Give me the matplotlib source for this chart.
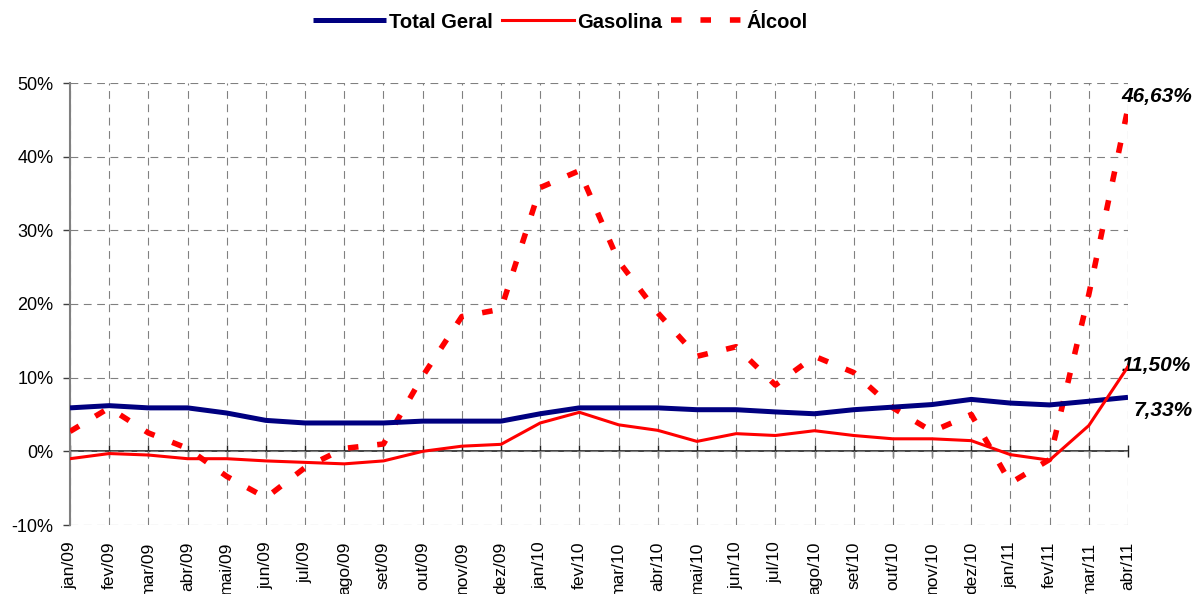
import matplotlib
matplotlib.use("Agg")
import matplotlib.pyplot as plt

plt.rcParams['font.family'] = ['Liberation Sans', 'DejaVu Sans']

# categorias (meses) e séries em %
meses = ['jan/09', 'fev/09', 'mar/09', 'abr/09', 'mai/09', 'jun/09', 'jul/09',
         'ago/09', 'set/09', 'out/09', 'nov/09', 'dez/09', 'jan/10', 'fev/10',
         'mar/10', 'abr/10', 'mai/10', 'jun/10', 'jul/10', 'ago/10', 'set/10',
         'out/10', 'nov/10', 'dez/10', 'jan/11', 'fev/11', 'mar/11', 'abr/11']
total_geral = [5.9, 6.2, 5.9, 5.9, 5.2, 4.2, 3.85, 3.85, 3.85, 4.1, 4.1, 4.1,
               5.1, 5.9, 5.9, 5.9, 5.65, 5.65, 5.35, 5.1, 5.65, 6.0, 6.35, 7.05,
               6.55, 6.3, 6.8, 7.33]
gasolina = [-1.0, -0.3, -0.5, -1.0, -1.0, -1.3, -1.5, -1.7, -1.3, 0.0, 0.7, 0.95,
            3.85, 5.3, 3.6, 2.85, 1.35, 2.4, 2.15, 2.8, 2.15, 1.7, 1.7, 1.45,
            -0.45, -1.2, 3.5, 11.50]
alcool = [2.7, 5.9, 2.5, 0.4, -3.4, -6.3, -2.2, 0.4, 1.0, 10.2, 18.3, 19.3,
          35.8, 38.1, 25.8, 18.8, 12.9, 14.2, 9.0, 12.9, 10.7, 5.9, 2.7, 5.0,
          -4.3, -1.1, 21.3, 46.63]
y_ticks = [-10, 0, 10, 20, 30, 40, 50]
y_labels = ['-10%', '0%', '10%', '20%', '30%', '40%', '50%']
rotulos = ['7,33%', '11,50%', '46,63%']

W, H = 1198, 594
fig = plt.figure(figsize=(W / 100, H / 100), dpi=100)
ax = fig.add_axes([70 / W, (H - 525) / H, (1128 - 70) / W, (525 - 83) / H])

x = list(range(len(meses)))
l1, = ax.plot(x, total_geral, color='#000080', lw=3.6, label='Total Geral',
              solid_capstyle='butt', zorder=4)
l2, = ax.plot(x, gasolina, color='#ff0000', lw=2.2, label='Gasolina', zorder=4)
l3, = ax.plot(x, alcool, color='#ff0000', lw=4.0, label='Álcool',
              dashes=(1.9, 3.4), zorder=3)

ax.set_xlim(0, len(meses) - 1)
ax.set_ylim(-10, 50)
ax.set_yticks(y_ticks)
ax.set_yticklabels(y_labels)
ax.set_xticks(x)
ax.set_xticklabels(meses, rotation=90, va='top', ha='center')

ax.grid(True, color='#808080', lw=0.8, linestyle=(0, (7, 5)))
ax.set_axisbelow(True)

for s in ['top', 'right', 'bottom']:
    ax.spines[s].set_visible(False)
ax.spines['left'].set_color('#808080')
ax.spines['left'].set_linewidth(1.5)
ax.tick_params(axis='y', length=5, width=1, color='#404040', pad=7,
               labelsize=13)
ax.tick_params(axis='x', length=0, pad=12, labelsize=12.5)

# linha do zero com marcas
ylo, yhi = ax.get_ylim()
sec = ax.secondary_xaxis((0 - ylo) / (yhi - ylo))
sec.set_xticks(x)
sec.tick_params(direction='inout', length=8, width=1, labelbottom=False,
                color='#202020')
sec.spines['bottom'].set_color('#202020')
sec.spines['bottom'].set_linewidth(1.2)

# rótulos dos últimos valores
ult = len(meses) - 1
ax.annotate(rotulos[2], xy=(ult, alcool[-1]), xytext=(-7, 11),
            textcoords='offset pixels', ha='left', va='center',
            fontsize=15, fontweight='bold', fontstyle='italic')
ax.annotate(rotulos[1], xy=(ult, gasolina[-1]), xytext=(-6, 1),
            textcoords='offset pixels', ha='left', va='center',
            fontsize=15, fontweight='bold', fontstyle='italic')
ax.annotate(rotulos[0], xy=(ult, total_geral[-1]), xytext=(6, -13),
            textcoords='offset pixels', ha='left', va='center',
            fontsize=15, fontweight='bold', fontstyle='italic')

fig.legend(handles=[l1, l2, l3], loc='center', bbox_to_anchor=(0.468, 1 - 22 / H),
           ncol=3, frameon=False, handlelength=3.6, handletextpad=0.15,
           columnspacing=0.45, borderpad=0, prop={'weight': 'bold', 'size': 14.5})

fig.savefig('out.png', dpi=100)
